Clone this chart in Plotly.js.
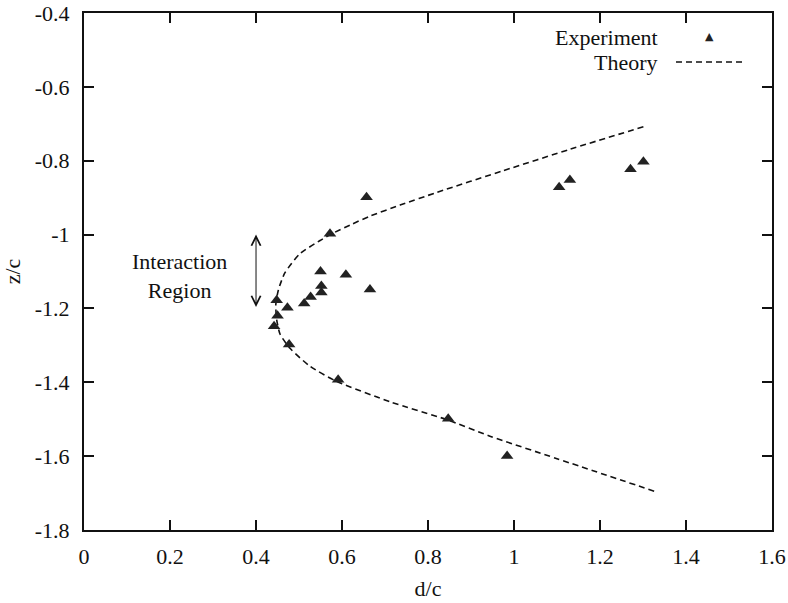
<!DOCTYPE html>
<html>
<head>
<meta charset="utf-8">
<script src="https://cdn.plot.ly/plotly-3.0.1.min.js"></script>
<style>html,body{margin:0;padding:0;background:#fff;}#chart{width:788px;height:603px;}</style>
</head>
<body>
<div id="chart"></div>
<script>
// Experiment data (d/c, z/c)
const expD = [0.572, 0.550, 0.609, 0.552, 0.552, 0.527, 0.512, 0.665, 0.448, 0.473, 0.450, 0.442, 0.477, 0.657, 0.591, 0.847, 0.984, 1.105, 1.130, 1.271, 1.301];
const expZ = [-0.998, -1.100, -1.109, -1.139, -1.157, -1.169, -1.187, -1.149, -1.178, -1.198, -1.220, -1.248, -1.298, -0.899, -1.393, -1.499, -1.600, -0.872, -0.852, -0.823, -0.803];
// Theory curve
const thD = [1.301, 1.130, 0.975, 0.820, 0.735, 0.665, 0.619, 0.576, 0.549, 0.502, 0.467, 0.452, 0.446, 0.448, 0.456, 0.479, 0.526, 0.588, 0.712, 0.843, 0.944, 1.100, 1.326];
const thZ = [-0.708, -0.769, -0.827, -0.886, -0.920, -0.950, -0.974, -0.998, -1.016, -1.052, -1.104, -1.150, -1.190, -1.230, -1.270, -1.308, -1.357, -1.398, -1.453, -1.501, -1.546, -1.607, -1.695];
const xTicks = [0, 0.2, 0.4, 0.6, 0.8, 1, 1.2, 1.4, 1.6];
const xTickText = ['0', '0.2', '0.4', '0.6', '0.8', '1', '1.2', '1.4', '1.6'];
const yTicks = [-0.4, -0.6, -0.8, -1, -1.2, -1.4, -1.6, -1.8];
const yTickText = ['-0.4', '-0.6', '-0.8', '-1', '-1.2', '-1.4', '-1.6', '-1.8'];

const FONT = "Liberation Serif";
const FS = 22;

const traces = [
  {x: thD, y: thZ, mode: 'lines', type: 'scatter', name: 'Theory',
   line: {color: '#111', width: 1.6, dash: '6px,4px', shape: 'spline', smoothing: 0.6}},
  {x: expD, y: expZ, mode: 'markers', type: 'scatter', name: 'Experiment',
   marker: {symbol: 'triangle-up', size: 11, color: '#222'}}
];

const axisCommon = {
  showgrid: false, zeroline: false, showline: true, mirror: 'ticks',
  linecolor: '#111', linewidth: 2, ticks: 'inside', ticklen: 10, tickwidth: 2, tickcolor: '#111',
  tickfont: {family: FONT, size: FS, color: '#111'}, ticklabeloverflow: 'allow'
};

const T = 13, B = 73, L = 84, R = 16;
const plotW = 788 - L - R, plotH = 603 - T - B;
function px(xp) { return (xp - L) / plotW; }
function py(yp) { return 1 - (yp - T) / plotH; }

const layout = {
  width: 788, height: 603,
  margin: {l: L, r: R, t: T, b: B},
  paper_bgcolor: '#fff', plot_bgcolor: '#fff',
  showlegend: false,
  font: {family: FONT, size: FS, color: '#111'},
  xaxis: Object.assign({}, axisCommon, {
    range: [-0.0001, 1.6001], tickvals: xTicks, ticktext: xTickText, ticklabelstandoff: 6,
    title: {text: 'd/c', font: {family: FONT, size: FS}, standoff: 12}
  }),
  yaxis: Object.assign({}, axisCommon, {
    range: [-1.8002, -0.3998], tickvals: yTicks, ticktext: yTickText, ticklabelstandoff: 8,
    title: {text: 'z/c', font: {family: FONT, size: FS}, standoff: 8}
  }),
  annotations: [
    {x: 0.221, y: -1.112, xref: 'x', yref: 'y', text: 'Interaction<br>Region', showarrow: false,
     font: {family: FONT, size: FS, color: '#111'}, align: 'center', xanchor: 'center', yanchor: 'middle'},
    {x: 0.40, y: -1.0, ax: 0.40, ay: -1.2, xref: 'x', yref: 'y', axref: 'x', ayref: 'y', text: '',
     showarrow: true, arrowhead: 5, startarrowhead: 5, arrowside: 'end+start', arrowsize: 1.8, arrowwidth: 1, arrowcolor: '#111'},
    {x: px(660), y: py(37), xref: 'paper', yref: 'paper', text: 'Experiment', showarrow: false,
     xanchor: 'right', yanchor: 'middle', font: {family: FONT, size: FS, color: '#111'}},
    {x: px(660), y: py(62), xref: 'paper', yref: 'paper', text: 'Theory', showarrow: false,
     xanchor: 'right', yanchor: 'middle', font: {family: FONT, size: FS, color: '#111'}},
    {x: px(709), y: py(36), xref: 'paper', yref: 'paper', text: '▲', showarrow: false,
     xanchor: 'center', yanchor: 'middle', font: {family: 'DejaVu Sans', size: 11, color: '#222'}}
  ],
  shapes: [
    {type: 'line', xref: 'paper', yref: 'paper', x0: px(676), x1: px(745), y0: py(62), y1: py(62),
     line: {color: '#111', width: 1.6, dash: '6px,4px'}}
  ]
};

Plotly.newPlot('chart', traces, layout, {displayModeBar: false, staticPlot: true});
</script>
</body>
</html>
